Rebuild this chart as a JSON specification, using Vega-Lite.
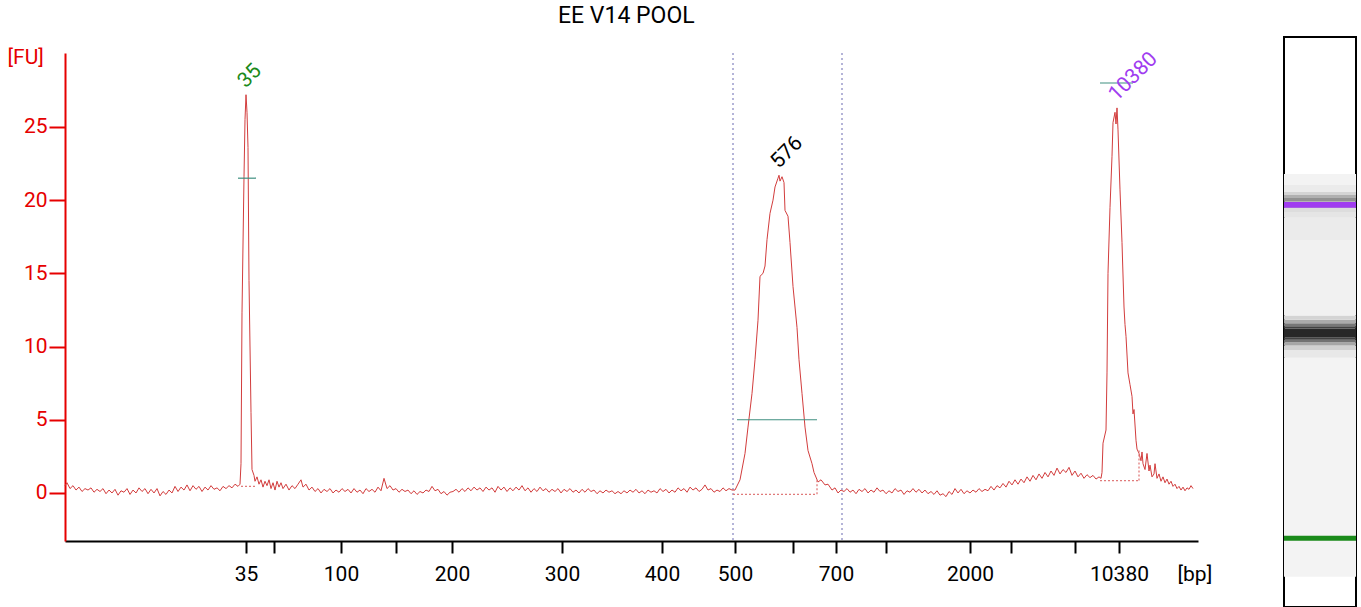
{
  "$schema": "https://vega.github.io/schema/vega-lite/v6.json",
  "padding": {"left": 7, "top": 5, "right": 0, "bottom": 0},
  "spacing": 71,
  "title": {"text": "EE V14 POOL", "font": "Roboto", "fontSize": 23, "fontWeight": "normal", "color": "#000000", "anchor": "start", "frame": "group", "dx": 493, "offset": 8},
  "config": {
    "view": {"stroke": null},
    "font": "Roboto",
    "background": "white"
  },
  "datasets": {
    "trace": [
      {"x":0,"fu":0.5},{"x":2,"fu":0.7},{"x":5,"fu":0.3},{"x":8,"fu":0.5},{"x":11,"fu":0.2},{"x":14,"fu":0.4},{"x":17,"fu":0.1},{"x":20,"fu":0.3},{"x":23,"fu":0.2},{"x":26,"fu":0.35},{"x":29,"fu":0.05},{"x":32,"fu":0.25},{"x":35,"fu":0.1},{"x":38,"fu":0.3},{"x":41,"fu":-0.05},{"x":44,"fu":0.2},{"x":47,"fu":0.0},{"x":50,"fu":0.25},{"x":53,"fu":-0.15},{"x":56,"fu":0.15},{"x":59,"fu":0.05},{"x":62,"fu":0.3},{"x":65,"fu":-0.1},{"x":68,"fu":0.2},{"x":71,"fu":0.0},{"x":74,"fu":0.35},{"x":77,"fu":0.1},{"x":80,"fu":0.3},{"x":83,"fu":-0.05},{"x":86,"fu":0.25},{"x":89,"fu":0.0},{"x":92,"fu":0.3},{"x":95,"fu":-0.2},{"x":98,"fu":0.1},{"x":101,"fu":-0.1},{"x":104,"fu":0.2},{"x":107,"fu":0.0},{"x":110,"fu":0.45},{"x":113,"fu":0.1},{"x":116,"fu":0.4},{"x":119,"fu":0.2},{"x":122,"fu":0.55},{"x":125,"fu":0.15},{"x":128,"fu":0.5},{"x":131,"fu":0.25},{"x":134,"fu":0.45},{"x":137,"fu":0.1},{"x":140,"fu":0.4},{"x":143,"fu":0.2},{"x":146,"fu":0.5},{"x":149,"fu":0.25},{"x":152,"fu":0.35},{"x":155,"fu":0.15},{"x":158,"fu":0.45},{"x":161,"fu":0.3},{"x":164,"fu":0.5},{"x":167,"fu":0.35},{"x":170,"fu":0.6},{"x":173,"fu":0.45},{"x":175,"fu":0.6},
      {"x":176,"fu":2.0},{"x":177,"fu":12.3},{"x":179,"fu":21.6},{"x":180,"fu":25.5},{"x":181,"fu":27.2},{"x":182,"fu":26.0},{"x":183,"fu":23.6},{"x":184,"fu":14.5},{"x":186,"fu":5.5},{"x":187,"fu":1.6},{"x":189,"fu":1.2},{"x":190,"fu":0.8},{"x":192,"fu":1.1},{"x":194,"fu":0.6},{"x":196,"fu":0.9},{"x":198,"fu":0.4},{"x":200,"fu":0.8},{"x":202,"fu":0.5},{"x":204,"fu":0.9},{"x":206,"fu":0.3},{"x":208,"fu":0.7},{"x":210,"fu":0.2},{"x":212,"fu":0.8},{"x":214,"fu":0.4},{"x":216,"fu":0.7},{"x":218,"fu":0.3},{"x":221,"fu":0.6},{"x":224,"fu":0.2},{"x":227,"fu":0.5},{"x":230,"fu":0.3},{"x":233,"fu":0.6},{"x":236,"fu":0.9},{"x":238,"fu":0.4},{"x":241,"fu":0.6},{"x":244,"fu":0.2},{"x":247,"fu":0.4},{"x":250,"fu":0.1},{"x":253,"fu":0.3},{"x":256,"fu":0.0},{"x":259,"fu":0.25},{"x":262,"fu":0.1},{"x":265,"fu":0.3},{"x":268,"fu":0.0},{"x":271,"fu":0.2},{"x":274,"fu":0.05},{"x":277,"fu":0.3},{"x":280,"fu":0.1},{"x":283,"fu":0.25},{"x":286,"fu":0.0},{"x":289,"fu":0.3},{"x":292,"fu":0.05},{"x":295,"fu":0.2},{"x":298,"fu":-0.05},{"x":301,"fu":0.3},{"x":304,"fu":0.1},{"x":307,"fu":0.25},{"x":310,"fu":0.05},{"x":313,"fu":0.4},{"x":316,"fu":0.15},{"x":319,"fu":1.0},{"x":322,"fu":0.3},{"x":325,"fu":0.5},{"x":328,"fu":0.2},{"x":331,"fu":0.3},{"x":334,"fu":0.05},{"x":337,"fu":0.25},{"x":340,"fu":0.1},{"x":343,"fu":0.2},{"x":346,"fu":-0.05},{"x":349,"fu":0.15},{"x":352,"fu":-0.1},{"x":355,"fu":0.1},{"x":358,"fu":0.0},{"x":361,"fu":0.2},{"x":364,"fu":0.1},{"x":367,"fu":0.45},{"x":370,"fu":0.15},{"x":373,"fu":0.25},{"x":376,"fu":-0.05},{"x":379,"fu":0.1},{"x":382,"fu":-0.15},{"x":385,"fu":0.05},{"x":388,"fu":0.1},{"x":391,"fu":0.25},{"x":394,"fu":0.05},{"x":397,"fu":0.3},{"x":400,"fu":0.1},{"x":403,"fu":0.35},{"x":406,"fu":0.15},{"x":409,"fu":0.4},{"x":412,"fu":0.2},{"x":415,"fu":0.35},{"x":418,"fu":0.1},{"x":421,"fu":0.4},{"x":424,"fu":0.2},{"x":427,"fu":0.35},{"x":430,"fu":0.05},{"x":433,"fu":0.45},{"x":436,"fu":0.2},{"x":439,"fu":0.4},{"x":442,"fu":0.1},{"x":445,"fu":0.35},{"x":448,"fu":0.15},{"x":451,"fu":0.4},{"x":454,"fu":0.2},{"x":457,"fu":0.5},{"x":460,"fu":0.15},{"x":463,"fu":0.35},{"x":466,"fu":0.05},{"x":469,"fu":0.3},{"x":472,"fu":0.1},{"x":475,"fu":0.4},{"x":478,"fu":0.15},{"x":481,"fu":0.3},{"x":484,"fu":0.05},{"x":487,"fu":0.25},{"x":490,"fu":0.1},{"x":493,"fu":0.3},{"x":496,"fu":0.0},{"x":499,"fu":0.25},{"x":502,"fu":0.1},{"x":505,"fu":0.3},{"x":508,"fu":0.05},{"x":511,"fu":0.2},{"x":514,"fu":0.0},{"x":517,"fu":0.25},{"x":520,"fu":0.05},{"x":523,"fu":0.3},{"x":526,"fu":0.1},{"x":529,"fu":0.2},{"x":532,"fu":-0.05},{"x":535,"fu":0.15},{"x":538,"fu":0.0},{"x":541,"fu":0.2},{"x":544,"fu":0.05},{"x":547,"fu":0.15},{"x":550,"fu":-0.05},{"x":553,"fu":0.1},{"x":556,"fu":-0.05},{"x":559,"fu":0.15},{"x":562,"fu":0.0},{"x":565,"fu":0.2},{"x":568,"fu":0.05},{"x":571,"fu":0.25},{"x":574,"fu":0.0},{"x":577,"fu":0.15},{"x":580,"fu":-0.05},{"x":583,"fu":0.2},{"x":586,"fu":0.05},{"x":589,"fu":0.15},{"x":592,"fu":0.0},{"x":595,"fu":0.3},{"x":598,"fu":0.1},{"x":601,"fu":0.25},{"x":604,"fu":0.0},{"x":607,"fu":0.2},{"x":610,"fu":0.05},{"x":613,"fu":0.35},{"x":616,"fu":0.15},{"x":619,"fu":0.3},{"x":622,"fu":0.05},{"x":625,"fu":0.4},{"x":628,"fu":0.2},{"x":631,"fu":0.35},{"x":634,"fu":0.1},{"x":637,"fu":0.25},{"x":640,"fu":0.55},{"x":643,"fu":0.2},{"x":646,"fu":0.3},{"x":649,"fu":0.05},{"x":652,"fu":0.2},{"x":655,"fu":0.1},{"x":658,"fu":0.35},{"x":661,"fu":0.15},{"x":664,"fu":0.3},{"x":667,"fu":0.2},
      {"x":670,"fu":0.2},{"x":675,"fu":0.9},{"x":680,"fu":2.7},{"x":683,"fu":4.5},{"x":687,"fu":6.8},{"x":690,"fu":9.1},{"x":693,"fu":11.8},{"x":695,"fu":14.8},{"x":698,"fu":15.0},{"x":700,"fu":15.5},{"x":702,"fu":17.3},{"x":705,"fu":19.1},{"x":708,"fu":20.0},{"x":710,"fu":20.9},{"x":713,"fu":21.5},{"x":714,"fu":21.7},{"x":715,"fu":21.3},{"x":717,"fu":21.6},{"x":719,"fu":21.2},{"x":720,"fu":19.3},{"x":723,"fu":18.9},{"x":725,"fu":17.1},{"x":728,"fu":14.1},{"x":732,"fu":11.3},{"x":734,"fu":9.1},{"x":737,"fu":6.8},{"x":740,"fu":4.5},{"x":743,"fu":2.9},{"x":747,"fu":2.0},{"x":749,"fu":1.4},{"x":753,"fu":0.75},{"x":756,"fu":0.9},{"x":760,"fu":0.55},{"x":763,"fu":0.6},{"x":767,"fu":0.2},{"x":770,"fu":0.35},{"x":773,"fu":0.0},{"x":776,"fu":0.2},
      {"x":779,"fu":0.1},{"x":782,"fu":0.3},{"x":785,"fu":0.05},{"x":788,"fu":0.2},{"x":791,"fu":-0.05},{"x":794,"fu":0.25},{"x":797,"fu":0.1},{"x":800,"fu":0.3},{"x":803,"fu":0.0},{"x":806,"fu":0.2},{"x":809,"fu":0.05},{"x":812,"fu":0.35},{"x":815,"fu":0.1},{"x":818,"fu":0.2},{"x":821,"fu":-0.05},{"x":824,"fu":0.15},{"x":827,"fu":0.0},{"x":830,"fu":0.3},{"x":833,"fu":0.1},{"x":836,"fu":0.2},{"x":839,"fu":-0.1},{"x":842,"fu":0.15},{"x":845,"fu":0.05},{"x":848,"fu":0.3},{"x":851,"fu":0.05},{"x":854,"fu":0.25},{"x":857,"fu":0.0},{"x":860,"fu":0.2},{"x":863,"fu":-0.05},{"x":866,"fu":0.1},{"x":869,"fu":-0.1},{"x":872,"fu":0.15},{"x":875,"fu":-0.15},{"x":878,"fu":-0.05},{"x":881,"fu":-0.25},{"x":884,"fu":0.1},{"x":887,"fu":-0.1},{"x":890,"fu":0.3},{"x":893,"fu":0.0},{"x":896,"fu":0.25},{"x":899,"fu":-0.05},{"x":902,"fu":0.15},{"x":905,"fu":0.0},{"x":908,"fu":0.2},{"x":911,"fu":0.05},{"x":914,"fu":0.3},{"x":917,"fu":0.1},{"x":920,"fu":0.25},{"x":923,"fu":0.15},{"x":926,"fu":0.45},{"x":929,"fu":0.2},{"x":932,"fu":0.5},{"x":935,"fu":0.35},{"x":938,"fu":0.65},{"x":941,"fu":0.4},{"x":944,"fu":0.8},{"x":947,"fu":0.55},{"x":950,"fu":0.9},{"x":953,"fu":0.6},{"x":956,"fu":0.95},{"x":959,"fu":0.7},{"x":962,"fu":1.1},{"x":965,"fu":0.8},{"x":968,"fu":1.2},{"x":971,"fu":0.9},{"x":974,"fu":1.3},{"x":977,"fu":1.0},{"x":980,"fu":1.4},{"x":983,"fu":1.1},{"x":986,"fu":1.5},{"x":989,"fu":1.2},{"x":992,"fu":1.7},{"x":995,"fu":1.3},{"x":998,"fu":1.6},{"x":1001,"fu":1.4},{"x":1004,"fu":1.75},{"x":1007,"fu":1.2},{"x":1010,"fu":1.5},{"x":1013,"fu":1.1},{"x":1016,"fu":1.35},{"x":1019,"fu":1.0},{"x":1022,"fu":1.25},{"x":1025,"fu":1.05},{"x":1028,"fu":1.2},{"x":1031,"fu":0.95},{"x":1034,"fu":1.1},{"x":1036,"fu":1.0},
      {"x":1037,"fu":1.4},{"x":1038,"fu":3.4},{"x":1041,"fu":4.3},{"x":1042,"fu":8.2},{"x":1043,"fu":15.0},{"x":1045,"fu":19.5},{"x":1047,"fu":23.0},{"x":1048,"fu":25.3},{"x":1050,"fu":26.0},{"x":1051,"fu":25.2},{"x":1052,"fu":26.3},{"x":1053,"fu":24.8},{"x":1055,"fu":20.7},{"x":1057,"fu":17.1},{"x":1059,"fu":12.7},{"x":1060,"fu":11.5},{"x":1061,"fu":10.7},{"x":1063,"fu":8.2},{"x":1065,"fu":7.4},{"x":1067,"fu":6.6},{"x":1068,"fu":5.4},{"x":1069,"fu":5.7},{"x":1071,"fu":3.6},{"x":1072,"fu":3.0},{"x":1074,"fu":2.7},{"x":1076,"fu":2.2},{"x":1077,"fu":2.8},{"x":1078,"fu":2.0},{"x":1080,"fu":1.6},{"x":1082,"fu":2.7},{"x":1084,"fu":1.5},{"x":1085,"fu":1.9},{"x":1087,"fu":1.1},{"x":1089,"fu":1.3},{"x":1090,"fu":2.0},{"x":1092,"fu":1.0},{"x":1094,"fu":1.3},{"x":1096,"fu":0.8},{"x":1098,"fu":1.1},{"x":1100,"fu":0.7},{"x":1102,"fu":0.95},{"x":1104,"fu":0.6},{"x":1106,"fu":0.8},{"x":1108,"fu":0.45},{"x":1110,"fu":0.6},{"x":1112,"fu":0.3},{"x":1114,"fu":0.45},{"x":1116,"fu":0.2},{"x":1118,"fu":0.4},{"x":1120,"fu":0.15},{"x":1122,"fu":0.35},{"x":1124,"fu":0.25},{"x":1126,"fu":0.5},{"x":1128,"fu":0.3}
    ],
    "regions": [{"x": 668}, {"x": 777}],
    "heights": [
      {"x": 173, "x2": 191, "fu": 21.5},
      {"x": 672, "x2": 752, "fu": 5.0},
      {"x": 1035, "x2": 1068, "fu": 28.0}
    ],
    "baselines": [
      {"x": 176, "x2": 192, "fu": 0.45, "fu2": 0.45},
      {"x": 668, "x2": 752, "fu": -0.09, "fu2": -0.09},
      {"x": 752, "x2": 752, "fu": -0.09, "fu2": 0.9},
      {"x": 1035, "x2": 1074, "fu": 0.85, "fu2": 0.85},
      {"x": 1074, "x2": 1074, "fu": 0.85, "fu2": 2.9}
    ],
    "peaks": [
      {"x": 181, "fu": 27.2, "label": "35", "kind": "lower"},
      {"x": 714, "fu": 21.7, "label": "576", "kind": "sample"},
      {"x": 1052, "fu": 26.3, "label": "10380", "kind": "upper"}
    ],
    "gel": [
      {"p1": 79, "p2": 650, "shade": 0.04},
      {"p1": 650, "p2": 670, "shade": 0.08},
      {"p1": 670, "p2": 682, "shade": 0.16},
      {"p1": 682, "p2": 690, "shade": 0.32},
      {"p1": 690, "p2": 697, "shade": 0.52},
      {"p1": 697, "p2": 703, "shade": 0.72},
      {"p1": 703, "p2": 726, "shade": 0.84},
      {"p1": 726, "p2": 732, "shade": 0.72},
      {"p1": 732, "p2": 740, "shade": 0.5},
      {"p1": 740, "p2": 749, "shade": 0.3},
      {"p1": 749, "p2": 760, "shade": 0.15},
      {"p1": 760, "p2": 957, "shade": 0.05},
      {"p1": 957, "p2": 1015, "shade": 0.07},
      {"p1": 1015, "p2": 1030, "shade": 0.09},
      {"p1": 1030, "p2": 1041, "shade": 0.12},
      {"p1": 1041, "p2": 1058, "shade": 0.3},
      {"p1": 1058, "p2": 1066, "shade": 0.4},
      {"p1": 1066, "p2": 1074, "shade": 0.28},
      {"p1": 1074, "p2": 1082, "shade": 0.15},
      {"p1": 1082, "p2": 1100, "shade": 0.07},
      {"p1": 1100, "p2": 1129, "shade": 0.04}
    ],
    "markers": [
      {"p1": 173, "p2": 186, "kind": "lower"},
      {"p1": 1041, "p2": 1056, "kind": "upper"}
    ]
  },
  "hconcat": [
    {
      "bounds": "flush",
      "spacing": 0,
      "vconcat": [
        {
          "width": 1133,
          "height": 16,
          "data": {"values": []},
          "mark": {"type": "text"},
          "encoding": {}
        },
        {
          "width": 1133,
          "height": 488,
          "layer": [
            {
              "data": {"name": "regions"},
              "mark": {"type": "rule", "color": "#9c9ccc", "strokeWidth": 1.5, "strokeDash": [2, 3]},
              "encoding": {
                "x": {"field": "x", "type": "quantitative", "scale": {"domain": [0, 1133], "nice": false, "zero": false}}
              }
            },
            {
              "data": {"name": "trace"},
              "mark": {"type": "line", "color": "#d23c3c", "strokeWidth": 1, "interpolate": "linear"},
              "encoding": {
                "x": {
                  "field": "x", "type": "quantitative",
                  "scale": {"domain": [0, 1133], "nice": false, "zero": false},
                  "axis": {
                    "values": [181, 209, 276, 331, 387, 497, 597, 670, 728, 771, 821, 905, 946, 1010, 1054],
                    "labelExpr": "datum.value == 181 ? '35' : datum.value == 276 ? '100' : datum.value == 387 ? '200' : datum.value == 497 ? '300' : datum.value == 597 ? '400' : datum.value == 670 ? '500' : datum.value == 771 ? '700' : datum.value == 905 ? '2000' : datum.value == 1054 ? '10380' : ''",
                    "grid": false,
                    "domainColor": "#000000", "domainWidth": 2,
                    "tickColor": "#000000", "tickWidth": 2, "tickSize": 12,
                    "labelFont": "Roboto", "labelFontSize": 21, "labelColor": "#000000", "labelPadding": 10,
                    "labelOverlap": false, "labelFlush": false, "labelBound": false,
                    "title": "[bp]", "titleFont": "Roboto", "titleFontSize": 21, "titleFontWeight": "normal", "titleColor": "#000000",
                    "titleAlign": "left", "titleBaseline": "alphabetic", "titleX": 1112, "titleY": 39
                  }
                },
                "y": {
                  "field": "fu", "type": "quantitative",
                  "scale": {"domain": [-3.28, 30.05], "nice": false, "zero": false},
                  "axis": {
                    "values": [0, 5, 10, 15, 20, 25],
                    "grid": false,
                    "domainColor": "#e60000", "domainWidth": 2,
                    "tickColor": "#e60000", "tickWidth": 2, "tickSize": 16,
                    "labelFont": "Roboto", "labelFontSize": 21, "labelColor": "#e60000", "labelPadding": 2,
                    "title": "[FU]", "titleFont": "Roboto", "titleFontSize": 21, "titleFontWeight": "normal", "titleColor": "#e60000",
                    "titleAngle": 0, "titleAlign": "left", "titleBaseline": "alphabetic", "titleX": -58, "titleY": 10
                  }
                }
              }
            },
            {
              "data": {"name": "heights"},
              "mark": {"type": "rule", "color": "#3f8f80", "strokeWidth": 1.2},
              "encoding": {
                "x": {"field": "x", "type": "quantitative", "scale": {"domain": [0, 1133], "nice": false, "zero": false}},
                "x2": {"field": "x2"},
                "y": {"field": "fu", "type": "quantitative", "scale": {"domain": [-3.28, 30.05], "nice": false, "zero": false}}
              }
            },
            {
              "data": {"name": "baselines"},
              "mark": {"type": "rule", "color": "#e07a7a", "strokeWidth": 1.3, "strokeDash": [2, 2]},
              "encoding": {
                "x": {"field": "x", "type": "quantitative", "scale": {"domain": [0, 1133], "nice": false, "zero": false}},
                "x2": {"field": "x2"},
                "y": {"field": "fu", "type": "quantitative", "scale": {"domain": [-3.28, 30.05], "nice": false, "zero": false}},
                "y2": {"field": "fu2"}
              }
            },
            {
              "data": {"name": "peaks"},
              "mark": {"type": "text", "font": "Roboto", "fontSize": 21, "angle": 315, "align": "left", "baseline": "alphabetic", "dx": 4, "dy": -4.5},
              "encoding": {
                "x": {"field": "x", "type": "quantitative", "scale": {"domain": [0, 1133], "nice": false, "zero": false}},
                "y": {"field": "fu", "type": "quantitative", "scale": {"domain": [-3.28, 30.05], "nice": false, "zero": false}},
                "text": {"field": "label"},
                "color": {"field": "kind", "type": "nominal", "scale": {"domain": ["lower", "sample", "upper"], "range": ["#1a8a1a", "#000000", "#a03cf0"]}, "legend": null}
              }
            }
          ]
        }
      ]
    },
    {
      "width": 72,
      "height": 570,
      "view": {"stroke": "#000000", "strokeWidth": 2},
      "layer": [
        {
          "data": {"name": "gel"},
          "mark": {"type": "rect"},
          "encoding": {
            "y": {"field": "p1", "type": "quantitative", "scale": {"domain": [0, 1486], "nice": false, "zero": false}, "axis": null},
            "y2": {"field": "p2"},
            "fill": {"field": "shade", "type": "quantitative", "scale": {"domain": [0, 1], "range": ["#ffffff", "#000000"]}, "legend": null}
          }
        },
        {
          "data": {"name": "markers"},
          "mark": {"type": "rect"},
          "encoding": {
            "y": {"field": "p1", "type": "quantitative", "scale": {"domain": [0, 1486], "nice": false, "zero": false}, "axis": null},
            "y2": {"field": "p2"},
            "color": {"field": "kind", "type": "nominal", "scale": {"domain": ["lower", "sample", "upper"], "range": ["#0e800e", "#000000", "#a03cf0"]}, "legend": null}
          }
        }
      ]
    }
  ]
}
